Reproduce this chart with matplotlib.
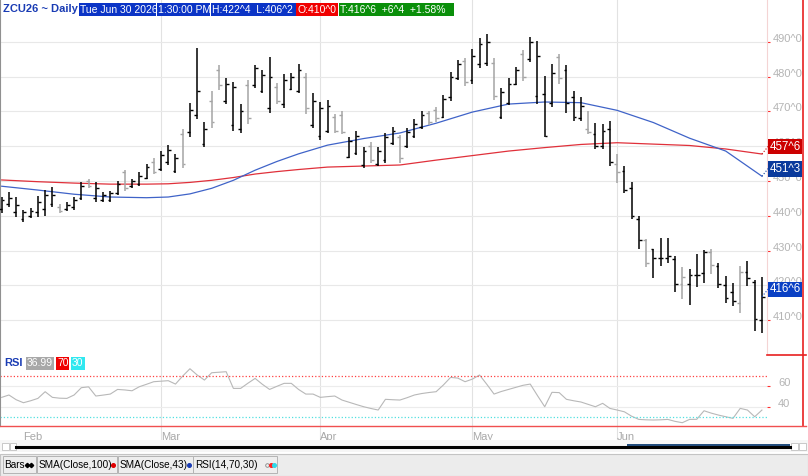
import numpy as np
import pandas as pd
import matplotlib
matplotlib.use('Agg')
import matplotlib.pyplot as plt
from matplotlib.patches import Rectangle

plt.rcParams['font.family'] = ['Liberation Sans', 'DejaVu Sans']

symbol = 'ZCU26'
period = 'Daily'
session_time = '1:30:00 PM'

# trading days on screen (exchange holidays removed)
holidays = ['2026-02-16', '2026-04-03', '2026-05-25', '2026-06-19']
dates = pd.bdate_range('2026-01-28', '2026-06-30')
dates = dates[~dates.isin(pd.to_datetime(holidays))]

opens = [442.0, 443.5, 441.0, 439.0, 440.0, 441.0, 442.0, 443.5, 442.5, 442.0,
         442.5, 445.0, 450.0, 445.0, 444.5, 444.5, 446.5, 452.5, 448.5, 449.0,
         451.0, 455.5, 453.5, 455.5, 453.0, 463.5, 464.0, 469.0, 460.5, 473.0,
         482.0, 473.0, 466.0, 465.0, 477.5, 477.5, 476.0, 471.0, 477.0, 472.0,
         476.5, 476.0, 480.0, 466.0, 463.0, 464.5, 468.5, 469.0, 457.0, 458.0,
         454.5, 460.0, 455.0, 456.0, 461.0, 462.5, 460.0, 463.0, 465.5, 469.5,
         470.5, 468.5, 474.0, 479.5, 484.5, 479.0, 483.5, 484.0, 484.0, 468.5,
         472.5, 478.0, 486.5, 485.0, 474.5, 475.0, 472.5, 485.5, 482.0, 474.0,
         468.0, 465.0, 463.5, 460.0, 465.0, 455.0, 453.0, 448.0, 439.0, 433.0,
         430.5, 428.0, 428.0, 427.5, 420.5, 420.5, 423.0, 423.5, 429.5, 425.5,
         420.0, 418.0, 415.0, 424.0, 421.0, 410.0]
highs = [445.5, 446.7, 445.3, 441.8, 442.3, 445.7, 447.4, 448.3, 443.3, 444.0,
         445.5, 449.6, 450.7, 449.6, 446.7, 447.1, 450.0, 453.3, 450.5, 452.5,
         454.9, 456.5, 458.6, 460.3, 457.9, 464.8, 472.5, 488.3, 467.0, 475.9,
         483.3, 479.5, 478.5, 472.0, 479.0, 483.3, 481.9, 485.7, 478.2, 480.6,
         480.9, 483.6, 481.1, 475.2, 472.8, 473.2, 469.2, 470.1, 462.5, 464.3,
         459.8, 461.1, 459.8, 463.9, 465.6, 463.2, 465.3, 467.7, 470.1, 470.1,
         471.3, 474.7, 481.4, 484.7, 485.2, 487.9, 491.0, 492.2, 485.2, 476.6,
         479.7, 482.8, 487.6, 491.4, 490.2, 480.1, 483.6, 486.5, 483.3, 475.8,
         474.2, 470.1, 466.6, 466.3, 467.3, 457.9, 454.3, 449.8, 440.0, 433.2,
         430.6, 433.5, 433.5, 428.5, 425.3, 424.7, 429.0, 430.1, 430.4, 426.3,
         422.7, 420.7, 425.5, 427.0, 421.5, 422.5]
lows = [440.7, 442.6, 439.7, 438.3, 439.5, 439.7, 440.0, 442.6, 440.9, 441.4,
        441.6, 444.5, 447.9, 444.0, 444.0, 444.0, 446.0, 447.2, 447.9, 448.6,
        450.7, 451.9, 452.9, 454.6, 452.2, 453.8, 462.7, 467.8, 459.8, 465.3,
        476.1, 472.0, 464.4, 463.9, 466.4, 476.8, 475.2, 469.6, 472.0, 471.0,
        476.1, 475.2, 469.2, 465.3, 461.8, 463.7, 463.7, 463.4, 456.5, 457.4,
        453.8, 455.3, 454.4, 455.1, 460.3, 455.3, 459.4, 462.4, 464.9, 466.1,
        467.0, 468.0, 473.0, 479.0, 477.4, 478.0, 482.5, 483.1, 473.2, 467.7,
        471.8, 477.6, 478.7, 484.3, 472.0, 462.5, 471.3, 478.0, 469.6, 467.3,
        467.3, 463.4, 459.1, 459.1, 454.3, 449.3, 446.6, 439.0, 430.4, 425.3,
        422.0, 425.6, 426.3, 418.2, 416.0, 414.3, 419.6, 420.7, 423.2, 419.4,
        415.0, 414.1, 412.1, 419.8, 406.9, 406.25]
closes = [444.5, 445.0, 443.0, 441.0, 441.5, 444.0, 446.0, 446.0, 441.5, 443.0,
          444.5, 448.5, 448.5, 448.0, 446.0, 446.5, 449.0, 448.0, 450.0, 451.5,
          454.0, 452.5, 457.5, 459.0, 456.5, 455.0, 470.5, 476.0, 465.0, 467.0,
          477.5, 478.0, 477.0, 470.0, 468.0, 482.5, 480.5, 480.0, 473.0, 479.0,
          480.0, 482.0, 471.0, 473.0, 471.0, 471.5, 464.5, 464.0, 461.5, 463.0,
          458.5, 456.0, 458.5, 462.5, 464.5, 456.5, 464.0, 466.5, 469.0, 467.0,
          468.0, 473.5, 480.0, 483.5, 478.5, 486.0, 489.5, 490.0, 474.5, 475.5,
          478.0, 482.0, 480.0, 490.0, 486.0, 463.0, 481.0, 479.5, 472.5, 468.5,
          471.5, 464.0, 460.0, 464.5, 455.5, 452.5, 447.5, 440.0, 433.0, 426.5,
          428.0, 428.0, 428.5, 420.5, 422.5, 423.0, 423.0, 429.5, 426.0, 420.5,
          416.5, 415.5, 424.0, 422.0, 410.25, 416.75]
grey_bars = [8, 12, 17, 21, 25, 29, 30, 34, 38, 42, 46, 47, 51, 55, 59, 60,
             64, 68, 72, 77, 81, 85, 89, 94, 98, 102]

# moving averages, every few bars
sma_idx = [0, 5, 10, 15, 20, 23, 26, 29, 32, 35, 38, 41, 45, 50, 55, 60, 65,
           70, 75, 80, 85, 90, 95, 100, 105]
sma100 = [450.3, 449.8, 449.4, 449.1, 449.1, 449.2, 449.6, 450.2, 451.0, 452.0,
          452.7, 453.3, 454.0, 454.3, 454.6, 456.0, 457.3, 458.6, 459.6, 460.5,
          461.0, 460.6, 460.2, 459.2, 457.75]
sma43 = [448.5, 447.4, 446.2, 445.4, 445.2, 445.4, 446.3, 447.9, 450.2, 453.1,
         455.6, 457.8, 460.3, 462.2, 463.8, 466.6, 469.8, 472.1, 472.7, 472.5,
         470.3, 466.8, 462.3, 458.6, 451.375]

rsi = [49.3, 51.6, 47.0, 44.1, 46.0, 48.3, 54.8, 49.3, 48.5, 48.3,
       51.6, 58.7, 59.5, 50.6, 51.5, 52.5, 57.0, 56.5, 55.7, 59.6,
       62.0, 64.5, 65.0, 65.5, 62.2, 70.0, 77.1, 71.0, 66.1, 73.2,
       73.7, 74.2, 58.0, 58.0, 63.0, 67.7, 62.0, 57.0, 60.0, 62.9,
       62.9, 57.0, 52.5, 52.5, 49.3, 50.0, 50.6, 46.7, 44.5, 42.3,
       40.2, 38.5, 37.0, 47.4, 47.0, 46.7, 49.0, 51.6, 53.0, 54.0,
       54.8, 61.3, 68.7, 68.0, 64.5, 67.0, 71.0, 62.0, 52.5, 55.0,
       57.0, 59.0, 61.0, 62.2, 51.0, 40.2, 54.2, 53.9, 47.4, 46.0,
       44.8, 42.5, 40.2, 43.5, 38.6, 37.0, 35.3, 31.0, 27.9, 27.5,
       27.3, 27.5, 27.9, 26.0, 24.7, 27.9, 28.0, 36.3, 34.0, 32.1,
       30.5, 28.9, 38.6, 37.0, 30.5, 36.99]
rsi_upper, rsi_lower = 70, 30


def fmt(p):
    whole = int(np.floor(p + 1e-9))
    eighths = int(round((p - whole) * 8))
    if eighths == 8:
        whole, eighths = whole + 1, 0
    return f"{whole}^{eighths}"


n = len(dates)
x = np.arange(n)
month_pos = [i for i in range(1, n) if dates[i].month != dates[i - 1].month]
month_lbl = [dates[i].strftime('%b') for i in month_pos]

W, H = 808, 476
fig = plt.figure(figsize=(W / 100, H / 100), dpi=100)
fig.patch.set_facecolor('white')

ax = fig.add_axes([0, 1 - 354 / H, 767 / W, 354 / H])
ax2 = fig.add_axes([0, 1 - 426 / H, 767 / W, 72 / H])

# price bars
cols = ['#a4a4a4' if i in grey_bars else 'black' for i in range(n)]
ax.vlines(x, lows, highs, colors=cols, lw=1.1, zorder=3)
ax.hlines(opens, x - 0.38, x, colors=cols, lw=1.0, zorder=3)
ax.hlines(closes, x, x + 0.38, colors=cols, lw=1.0, zorder=3)

ax.plot(sma_idx, sma100, color='#e0303a', lw=0.9, zorder=2)
ax.plot(sma_idx, sma43, color='#3f63c8', lw=0.9, zorder=2)

ax.set_xlim(-0.235, 105.7)
ax.set_ylim(400.3, 502.0)
ax.set_yticks(range(410, 500, 10))
ax.yaxis.tick_right()
ax.set_yticklabels([fmt(v) for v in range(410, 500, 10)])
ax.tick_params(axis='y', length=2, color='#ff3030', labelcolor='#b4b4b4',
               labelsize=8, pad=2)
plt.setp(ax.get_yticklabels(), va='baseline')
ax.set_xticks([])
ax.grid(axis='y', color='#e8e8e8', lw=0.8)
for p in month_pos[1:]:
    ax.axvline(p, color='#e2e2e2', lw=0.8, zorder=0)
for s in ['top', 'bottom']:
    ax.spines[s].set_visible(False)
ax.spines['left'].set_color('#909090')
ax.spines['right'].set_color('#f4d4d4')

# last value boxes
yt = ax.get_yaxis_transform()
boxes = [(sma100[-1], '#cc0000'), (sma43[-1], '#0a3a9c'), (closes[-1], '#0a40c4')]
for v, c in boxes:
    ax.text(1.003, v + 0.4, fmt(v), transform=yt, color='white', fontsize=8.3,
            va='bottom', ha='left', clip_on=False, zorder=6,
            bbox=dict(boxstyle='square,pad=0.15', fc=c, ec='none'))
    ax.plot([x[-1], x[-1] + 0.9], [v, v + 2.3], ls=':', color=c, lw=0.8,
            clip_on=False, zorder=5)

# RSI panel
ax2.plot(x, rsi, color='#b8b8b8', lw=0.8)
ax2.axhline(rsi_upper, color='#ff4040', ls=':', lw=0.9)
ax2.axhline(rsi_lower, color='#50e0e0', ls=':', lw=0.9)
ax2.set_xlim(-0.235, 105.7)
ax2.set_ylim(21.5, 91.4)
ax2.set_yticks([40, 60])
ax2.yaxis.tick_right()
ax2.tick_params(axis='y', length=2, color='#ff3030', labelcolor='#b4b4b4',
                labelsize=8, pad=6)
plt.setp(ax2.get_yticklabels(), va='baseline')
ax2.grid(axis='y', color='#ececec', lw=0.8)
ax2.set_xticks(month_pos)
ax2.set_xticklabels(month_lbl)
ax2.tick_params(axis='x', length=0, pad=4, labelcolor='#a8a8a8', labelsize=8)
plt.setp(ax2.get_xticklabels(), ha='left')
for p in month_pos[1:]:
    ax2.axvline(p, ymin=-0.19, ymax=1, color='#e2e2e2', lw=0.8, zorder=0,
                clip_on=False)
for s in ['top', 'bottom', 'right']:
    ax2.spines[s].set_visible(False)
ax2.spines['left'].set_color('#909090')

# overlay in pixel units for frame, header, scrollbar and legend strip
ov = fig.add_axes([0, 0, 1, 1], zorder=10)
ov.set_xlim(0, W)
ov.set_ylim(H, 0)
ov.axis('off')
ov.patch.set_alpha(0)

ov.plot([803, 803], [0, 426], color='#e82020', lw=1.2)
ov.plot([767, 806], [354.5, 354.5], color='#e82020', lw=1.2)
ov.plot([0, 806], [426, 426], color='#f05050', lw=1.0)

# header
ov.text(3, 9.5, f'{symbol} ~ {period}', color='#1a3cb4', fontsize=8,
        fontweight='bold', va='center', ha='left')
last = n - 1
chg = closes[last] - closes[last - 1]
pct = chg / closes[last - 1] * 100
head = [
    (79, 77, '#0b34c6', dates[last].strftime('%a %b %d %Y')),
    (157, 53, '#0b34c6', session_time),
    (211, 85, '#0b34c6', f'H:{fmt(highs[last])}  L:{fmt(lows[last])}'),
    (296, 42, '#f00000', f'O:{fmt(opens[last])}'),
    (339, 115, '#0a8f0a', f'T:{fmt(closes[last])}  +{fmt(chg)}  +{pct:.2f}%'),
]
for hx, hw, hc, ht in head:
    ov.add_patch(Rectangle((hx, 3), hw, 13, fc=hc, ec='none'))
    ov.text(hx + 1, 9.7, ht, color='white', fontsize=7.5, va='center', ha='left')

# RSI legend
ov.text(4, 363, 'RSI', color='#1a3cb4', fontsize=8, fontweight='bold',
        va='center', ha='left')
rsi_tags = [(26, 28, '#a8a8a8', f'{rsi[-1]:.2f}'), (56, 13, '#f00000', str(rsi_upper)),
            (71, 14, '#30e8f0', str(rsi_lower))]
for tx, tw, tc, tt in rsi_tags:
    ov.add_patch(Rectangle((tx, 356.5), tw, 13, fc=tc, ec='none'))
    ov.text(tx + 1, 363.2, tt, color='white', fontsize=7.5, va='center', ha='left')

# scrollbar
ov.add_patch(Rectangle((0, 440), W, 12, fc='#f6f6f6', ec='none'))
ov.plot([16, 790], [446.5, 446.5], color='black', lw=2.2)
ov.add_patch(Rectangle((627, 444.3), 163, 5, fc='#214c7c', ec='none'))
for bx in [2, 9.5, 791, 799]:
    ov.add_patch(Rectangle((bx, 443), 6.5, 7, fc='white', ec='#c0c0c0', lw=0.6))

# indicator strip
ov.add_patch(Rectangle((0, 454), W, 22, fc='#ececec', ec='#c4c4c4', lw=0.8))
items = [(2.7, 33, 'Bars'), (36.7, 80, 'SMA(Close,100)'),
         (117.7, 75, 'SMA(Close,43)'), (193.3, 84, 'RSI(14,70,30)')]
for lx, lw_, lt in items:
    ov.add_patch(Rectangle((lx, 455.7), lw_, 17.6, fc='#eeeeee', ec='#b4b4b4', lw=0.7))
    ov.text(lx + 1.5, 465, lt, color='black', fontsize=7.2, va='center', ha='left')
ov.plot([26.5, 30.5], [465, 465], 'D', color='black', ms=2.2)
ov.plot([113], [465], 'o', color='#e00000', ms=2.6)
ov.plot([189], [465], 'o', color='#1a3cb4', ms=2.6)
ov.plot([267], [465], 'o', mfc='none', mec='#888888', ms=2.6, mew=0.6)
ov.plot([270.5], [465], 'o', color='#ff2020', ms=2.6)
ov.plot([274], [465], 'o', color='#30d8e8', ms=2.6)

fig.savefig('out.png', dpi=100, facecolor='white')
